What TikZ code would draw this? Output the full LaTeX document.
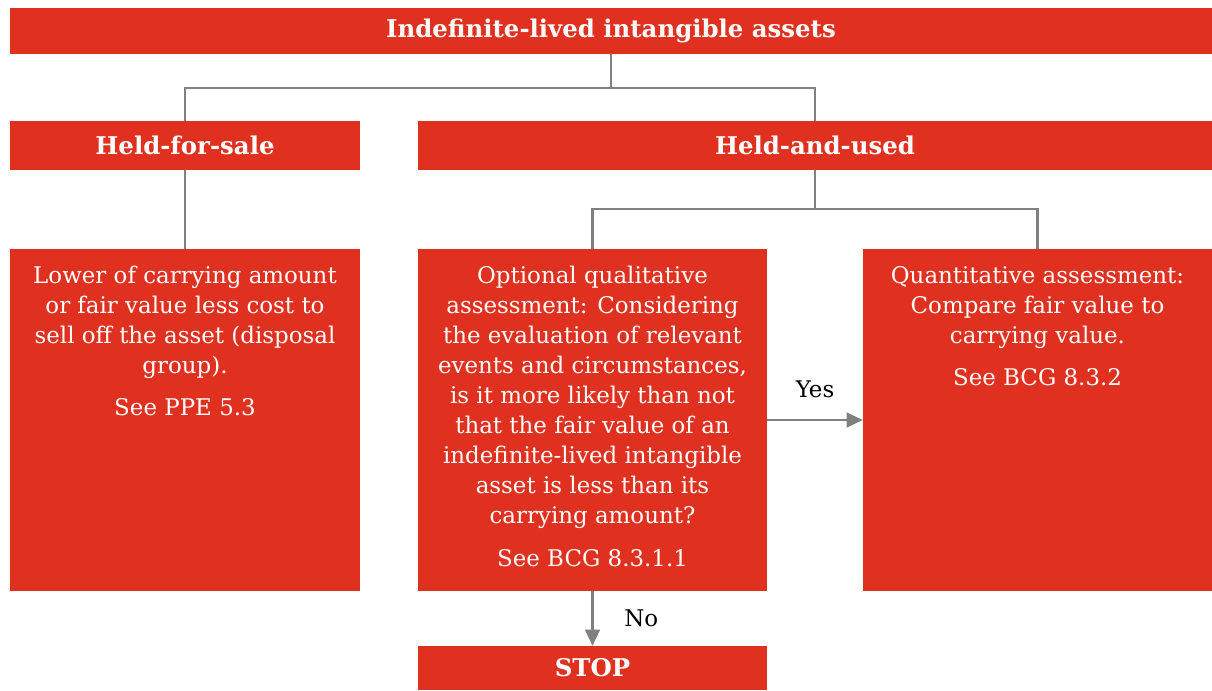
\documentclass[tikz,border=0pt]{standalone}
\usepackage{fontspec}
\setmainfont{DejaVu Serif}
\usetikzlibrary{arrows.meta}
\definecolor{pwcred}{HTML}{E03120}
\definecolor{lgrey}{HTML}{808080}
\tikzset{
  redbox/.style={rectangle, fill=pwcred, draw=none, inner sep=0pt},
  title/.style={text=white, font=\fontsize{18.3pt}{22pt}\selectfont\bfseries},
  body/.style={text=white, align=center, inner sep=0pt, anchor=north, font=\fontsize{17.2pt}{22.5pt}\selectfont},
  lbl/.style={text=black, inner sep=0pt, font=\fontsize{17.2pt}{22.5pt}\selectfont},
  conn/.style={draw=lgrey, line width=1.7pt},
  arr/.style={conn, -{Triangle[length=12pt, width=11pt]}}
}
\begin{document}
\begin{tikzpicture}[x=0.75pt, y=-0.75pt]
\useasboundingbox (0,0) rectangle (1212,690);
\fill[white] (0,0) rectangle (1212,690);

\node[redbox, title, minimum width=901.5pt, minimum height=34.5pt] (top) at (611,31) {Indefinite-lived intangible assets};
\node[redbox, title, minimum width=262.5pt, minimum height=36.75pt] (hfs) at (185,145.5) {Held-for-sale};
\node[redbox, title, minimum width=595.5pt, minimum height=36.75pt] (hau) at (815,145.5) {Held-and-used};
\node[redbox, minimum width=262.5pt, minimum height=256.5pt] (lft) at (185,420) {};
\node[redbox, minimum width=261.75pt, minimum height=256.5pt] (mid) at (592.5,420) {};
\node[redbox, minimum width=261.75pt, minimum height=256.5pt] (rgt) at (1037.5,420) {};
\node[redbox, title, minimum width=261.75pt, minimum height=33pt] (stop) at (592.5,668) {STOP};

\node[body] (lfttxt) at (185,260) {\rule{0pt}{1em}Lower of carrying amount\\ or fair value less cost to\\ sell off the asset (disposal\\ group).\\[9pt] See PPE 5.3};
\node[body] (midtxt) at (592.5,260) {\rule{0pt}{1em}Optional qualitative\\ assessment: Considering\\ the evaluation of relevant\\ events and circumstances,\\ is it more likely than not\\ that the fair value of an\\ indefinite-lived intangible\\ asset is less than its\\ carrying amount?\\[10pt] See BCG 8.3.1.1};
\node[body] (rgttxt) at (1037.5,260) {\rule{0pt}{1em}Quantitative assessment:\\ Compare fair value to\\ carrying value.\\[9pt] See BCG 8.3.2};

\draw[conn] (top.south) -- ++(0,34) -| (hfs.north);
\draw[conn] (top.south) -- ++(0,34) -| (hau.north);
\draw[conn] (hfs.south) -- (lft.north);
\draw[conn] (hau.south) -- ++(0,39) -| (mid.north);
\draw[conn] (hau.south) -- ++(0,39) -| (rgt.north);
\draw[arr] (mid.east) -- (rgt.west) node[lbl, midway, above=16pt] (yes) {Yes};
\draw[arr] (mid.south) -- (stop.north) node[lbl, midway, right=23pt] (no) {No};
\end{tikzpicture}
\end{document}
